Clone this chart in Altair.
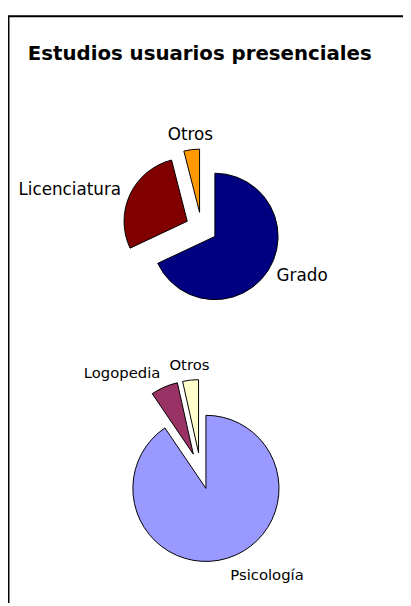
import altair as alt
import pandas as pd

title_text = "Estudios usuarios presenciales"

pie1_labels = ["Grado", "Licenciatura", "Otros"]
pie1_values = [68, 28, 4]
pie1_colors = ["#000080", "#800000", "#FF9900"]

pie2_labels = ["Psicología", "Logopedia", "Otros"]
pie2_values = [90.5, 6, 3.5]
pie2_colors = ["#9999FF", "#993366", "#FFFFCC"]

W, H = 400, 595
FONT = "DejaVu Sans"


def pie(labels, values, colors, cx, cy, r, font_size):
    df = pd.DataFrame({"label": labels, "value": values, "color": colors,
                       "order": list(range(len(labels)))})
    explode = 0.25 * r
    R = 1.25 * r + 10
    base = (
        alt.Chart(df)
        .transform_window(cum="sum(value)", sort=[alt.SortField("order")], frame=[None, 0])
        .transform_joinaggregate(total="sum(value)")
        .transform_calculate(
            a0="2*PI*(datum.cum - datum.value)/datum.total",
            a1="2*PI*datum.cum/datum.total",
        )
        .transform_calculate(mid="(datum.a0 + datum.a1)/2")
        .transform_calculate(
            cx=f"{cx} + {explode}*sin(datum.mid)",
            cy=f"{cy} - {explode}*cos(datum.mid)",
            tx=f"{cx} + {R}*sin(datum.mid)",
            ty=f"{cy} - {R}*cos(datum.mid)",
            al="sin(datum.mid) > 0.2 ? 'left' : (sin(datum.mid) < -0.2 ? 'right' : 'center')",
            bl="cos(datum.mid) > 0.7 ? 'alphabetic' : (cos(datum.mid) < -0.7 ? 'top' : 'middle')",
        )
    )
    arcs = base.mark_arc(outerRadius=r, stroke="black", strokeWidth=1).encode(
        x=alt.X("cx:Q", scale=None),
        y=alt.Y("cy:Q", scale=None),
        theta=alt.Theta("a0:Q", scale=None, stack=None),
        theta2="a1:Q",
        color=alt.Color("color:N", scale=None),
    )
    text = base.mark_text(
        font=FONT, fontSize=font_size, color="black",
        align={"expr": "datum.al"}, baseline={"expr": "datum.bl"},
    ).encode(
        x=alt.X("tx:Q", scale=None),
        y=alt.Y("ty:Q", scale=None),
        text="label:N",
    )
    return arcs + text


frame = alt.Chart(pd.DataFrame({"a": [0]})).mark_rect(
    fillOpacity=0, stroke="black", strokeWidth=2
).encode(x=alt.value(0.5), x2=alt.value(W + 30), y=alt.value(4.5), y2=alt.value(H + 30))

title = alt.Chart(pd.DataFrame({"t": [title_text]})).mark_text(
    font=FONT, fontWeight="bold", fontSize=20, align="left", baseline="alphabetic", color="black"
).encode(x=alt.value(20), y=alt.value(49), text="t:N")

p1 = pie(pie1_labels, pie1_values, pie1_colors, 196, 219, 64, 17)
p2 = pie(pie2_labels, pie2_values, pie2_colors, 195, 465, 74, 15)

chart = alt.layer(frame, title, p1, p2).properties(
    width=W, height=H, padding=0, autosize="none"
).configure_view(stroke=None)

chart.save("out.html", embed_options={"renderer": "svg", "actions": False})
